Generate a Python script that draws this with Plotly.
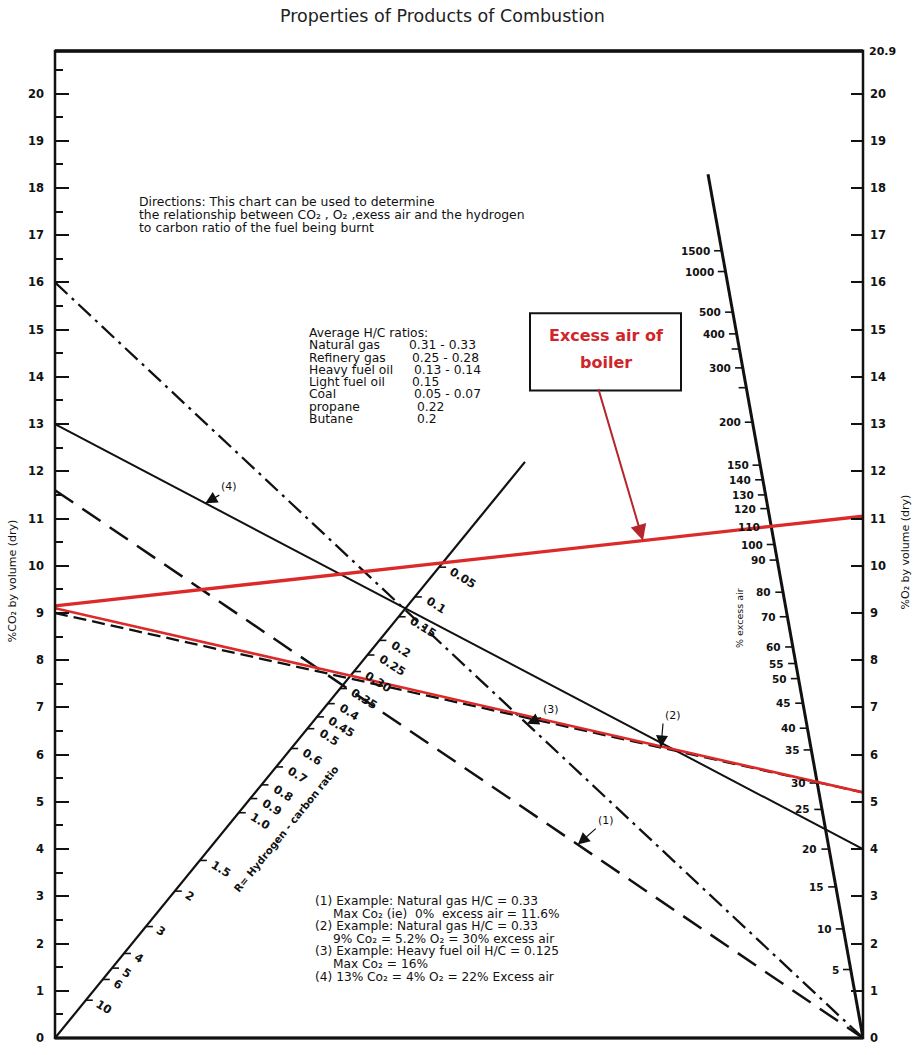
import math
import plotly.graph_objects as go

# ---------------- values ----------------
co2_ticks = list(range(0, 21))
co2_minor = [i + 0.5 for i in range(0, 21)]
o2_ticks = list(range(0, 21))
o2_top = 20.9

# hydrogen-carbon ratio scale: label and the CO2 level where its tick meets the scale
hc_labels = ["0.05", "0.1", "0.15", "0.2", "0.25", "0.30", "0.35", "0.4", "0.45", "0.5",
             "0.6", "0.7", "0.8", "0.9", "1.0", "1.5", "2", "3", "4", "5", "6", "10"]
hc_levels = [9.97, 9.34, 8.92, 8.42, 8.11, 7.76, 7.40, 7.08, 6.80, 6.55,
             6.13, 5.74, 5.36, 5.07, 4.77, 3.76, 3.11, 2.36, 1.79, 1.48, 1.24, 0.80]

# excess-air scale: label and the level where its tick meets the scale
ea_labels = ["1500", "1000", "500", "400", "", "300", "", "200", "150", "140", "130", "120",
             "110", "100", "90", "80", "70", "60", "55", "50", "45", "40", "35", "30",
             "25", "20", "15", "10", "5"]
ea_levels = [16.67, 16.23, 15.37, 14.91, 14.59, 14.19, 13.77, 13.04, 12.13, 11.82, 11.50, 11.21,
             10.83, 10.45, 10.12, 9.44, 8.92, 8.28, 7.93, 7.61, 7.09, 6.56, 6.10, 5.40,
             4.84, 4.00, 3.20, 2.31, 1.45]

# worked examples: CO2 on the left axis joined to O2 on the right axis
example_ids = ["(1)", "(2)", "(3)", "(4)"]
example_co2 = [11.6, 9.0, 16.0, 13.0]
example_o2 = [0.0, 5.2, 0.0, 4.0]

# boiler readings
boiler_co2 = [9.15, 9.1]
boiler_o2 = [11.05, 5.2]

hc_fuels = ["Natural gas", "Refinery gas", "Heavy fuel oil", "Light fuel oil", "Coal", "propane", "Butane"]
hc_ratios = ["0.31 - 0.33", "0.25 - 0.28", "0.13 - 0.14", "0.15", "0.05 - 0.07", "0.22", "0.2"]

directions = [
    "Directions: This chart can be used to determine",
    "the relationship between CO₂ , O₂ ,exess air and the hydrogen",
    "to carbon ratio of the fuel being burnt",
]
example_notes = [
    (0, "(1) Example: Natural gas H/C = 0.33"),
    (1, "Max Co₂ (ie)  0%  excess air = 11.6%"),
    (0, "(2) Example: Natural gas H/C = 0.33"),
    (1, "9% Co₂ = 5.2% O₂ = 30% excess air"),
    (0, "(3) Example: Heavy fuel oil H/C = 0.125"),
    (1, "Max Co₂ = 16%"),
    (0, "(4) 13% Co₂ = 4% O₂ = 22% Excess air"),
]

# ---------------- geometry ----------------
W, H = 919, 1055
ML, MR, MT, MB = 55, 56, 51, 10
PW, PH = W - ML - MR, H - MT - MB
XMAX, YMAX = 100.0, o2_top

def px_x(px):
    return (px - ML) / PW

def px_y(py):
    return (H - MB - py) / PH

XPX = PW / XMAX   # pixels per x unit
YPX = PH / YMAX   # pixels per y unit

# H/C scale runs from the origin; EA scale runs from the bottom-right corner
HC_TOP = 12.2
HC_K = 0.81 * YPX / XPX
EA_TOP = 18.29
EA_K = -(155 / 870) * YPX / XPX

def hc_x(y):
    return HC_K * y

def ea_x(y):
    return XMAX + EA_K * y

FONT = "DejaVu Sans, Verdana, sans-serif"
BLACK = "#111111"
RED = "#dc2a2a"

fig = go.Figure()

def add_line(xs, ys, color=BLACK, width=2.0, dash="solid"):
    fig.add_trace(go.Scatter(x=xs, y=ys, mode="lines",
                             line=dict(color=color, width=width, dash=dash),
                             hoverinfo="skip", showlegend=False))

# scale lines
add_line([0, hc_x(HC_TOP)], [0, HC_TOP], width=2.2)
add_line([XMAX, ea_x(EA_TOP)], [0, EA_TOP], width=3.0)

# scale ticks
tick_len = 7 / XPX
tx, ty = [], []
for v in hc_levels:
    tx += [hc_x(v), hc_x(v) + tick_len, None]
    ty += [v, v, None]
add_line(tx, ty, width=1.6)
tx, ty = [], []
for v in ea_levels:
    tx += [ea_x(v), ea_x(v) - tick_len * 1.1, None]
    ty += [v, v, None]
add_line(tx, ty, width=1.6)

# example lines
styles = [
    dict(width=2.5, dash="22px,11px"),
    dict(width=2.3, dash="13px,6px"),
    dict(width=2.3, dash="17px,6px,3px,6px"),
    dict(width=2.0, dash="solid"),
]
for c, o, st in zip(example_co2, example_o2, styles):
    add_line([0, XMAX], [c, o], **st)

# boiler lines
add_line([0, XMAX], [boiler_co2[0], boiler_o2[0]], color=RED, width=3.4)
add_line([0, XMAX], [boiler_co2[1], boiler_o2[1]], color=RED, width=2.6)

# invisible trace to carry the right-hand O2 axis
fig.add_trace(go.Scatter(x=[XMAX, XMAX], y=[0, YMAX], yaxis="y2", mode="markers",
                         marker=dict(opacity=0), hoverinfo="skip", showlegend=False))

ann = []

def note(px, py, text, size=12.3, xanchor="left", angle=0, color=BLACK, weight="normal",
         family=FONT):
    ann.append(dict(x=px_x(px), y=px_y(py), xref="paper", yref="paper", text=text,
                    showarrow=False, xanchor=xanchor, yanchor="middle", textangle=angle,
                    font=dict(family=family, size=size, color=color, weight=weight)))

# H/C tick labels, rotated along the scale
ang = 32
for lab, v in zip(hc_labels, hc_levels):
    hw = 3.7 * len(lab) + 1
    ann.append(dict(x=hc_x(v) + tick_len, y=v, xref="x", yref="y", text=lab, showarrow=False,
                    xanchor="center", yanchor="middle", textangle=ang,
                    font=dict(family=FONT, size=11.5, color=BLACK, weight="bold"),
                    xshift=4 + hw * math.cos(math.radians(ang)),
                    yshift=-(2 + hw * math.sin(math.radians(ang)))))

note(286, 835, "R= Hydrogen - carbon ratio", size=10.3, xanchor="center", angle=-51, weight="bold")

# excess-air labels
for lab, v in zip(ea_labels, ea_levels):
    if not lab:
        continue
    ann.append(dict(x=ea_x(v) - tick_len * 1.1, y=v, xref="x", yref="y", text=lab,
                    showarrow=False, xanchor="right", yanchor="middle", xshift=-2,
                    font=dict(family=FONT, size=10.5, color=BLACK, weight="bold")))

note(740, 622, "% excess air", size=9.5, xanchor="center", angle=-90)

# example markers
mark_x = [64.7, 75.0, 58.4, 18.6]
mark_off = [(18, -16), (2, -24), (14, -6), (14, -8)]
for lab, c, o, mx, (ox, oy) in zip(example_ids, example_co2, example_o2, mark_x, mark_off):
    my = c + (o - c) * mx / XMAX
    ann.append(dict(x=mx, y=my, xref="x", yref="y", text=lab, showarrow=True,
                    ax=ox, ay=oy, arrowhead=2, arrowsize=2.0, arrowwidth=1.2,
                    arrowcolor=BLACK, xanchor="left", yanchor="bottom",
                    font=dict(family=FONT, size=11, color=BLACK)))

# callout for the boiler excess-air line
tip_x = px_x(643) * XMAX
tip_y = boiler_co2[0] + (boiler_o2[0] - boiler_co2[0]) * tip_x / XMAX
ann.append(dict(x=tip_x, y=tip_y, xref="x", yref="y", text="", showarrow=True,
                ax=598 - 643, ay=393 - 546, arrowhead=2, arrowsize=1.6, arrowwidth=2,
                arrowcolor="#b5262b"))
note(606, 338, "Excess air of", size=16, xanchor="center", color="#d0262b", weight="bold")
note(606, 365, "boiler", size=16, xanchor="center", color="#d0262b", weight="bold")

# title and axis titles
note(442, 16, "Properties of Products of Combustion", size=17.5, xanchor="center", color="#222222")
note(12, 585, "%CO₂ by volume (dry)", size=11, xanchor="center", angle=-90)
note(905, 556, "%O₂ by volume (dry)", size=11, xanchor="center", angle=-90)
note(867, 52, "20.9", size=11, weight="bold")

# directions
for i, line in enumerate(directions):
    note(137, 203 + 13 * i, line, size=12.4)

# H/C table
note(307, 335, "Average H/C ratios:", size=12.3)
ratio_x = [407, 410, 412, 410, 412, 415, 415]
for i, (f, r) in enumerate(zip(hc_fuels, hc_ratios)):
    yy = 335 + 12.35 * (i + 1)
    note(307, yy, f, size=12.3)
    note(ratio_x[i], yy, r, size=12.3)

# example notes
for i, (indent, line) in enumerate(example_notes):
    note(331 if indent else 313, 907 + 12.7 * i, line, size=12.2)

shapes = [
    dict(type="rect", xref="paper", yref="paper", x0=px_x(530), x1=px_x(681),
         y0=px_y(393), y1=px_y(315), line=dict(color=BLACK, width=2), fillcolor="white",
         layer="above"),
    dict(type="rect", xref="paper", yref="paper", x0=0, x1=1, y0=0, y1=1,
         line=dict(color=BLACK, width=2.5)),
    dict(type="line", xref="paper", yref="paper", x0=0, x1=1, y0=1, y1=1,
         line=dict(color=BLACK, width=3.5)),
    dict(type="line", xref="paper", yref="paper", x0=0, x1=1, y0=0, y1=0,
         line=dict(color=BLACK, width=3)),
]

fig.update_layout(
    width=W, height=H,
    margin=dict(l=ML, r=MR, t=MT, b=MB),
    paper_bgcolor="white", plot_bgcolor="white",
    xaxis=dict(range=[0, XMAX], visible=False, fixedrange=True),
    yaxis=dict(range=[0, YMAX], tickvals=co2_ticks, ticks="inside", ticklen=14, tickwidth=2.4,
               tickcolor=BLACK, showgrid=False, zeroline=False, showline=False,
               ticklabelstandoff=10,
               tickfont=dict(family=FONT, size=11.5, color=BLACK, weight="bold"),
               minor=dict(tickvals=co2_minor, ticks="inside", ticklen=8, tickwidth=2, tickcolor=BLACK)),
    yaxis2=dict(range=[0, YMAX], overlaying="y", side="right", tickvals=o2_ticks, ticks="inside",
                ticklen=12, tickwidth=2.4, tickcolor=BLACK, showgrid=False, zeroline=False,
                showline=False, ticklabelstandoff=6,
                tickfont=dict(family=FONT, size=11.5, color=BLACK, weight="bold")),
    annotations=ann,
    shapes=shapes,
    showlegend=False,
)

fig.write_html("out.html")
